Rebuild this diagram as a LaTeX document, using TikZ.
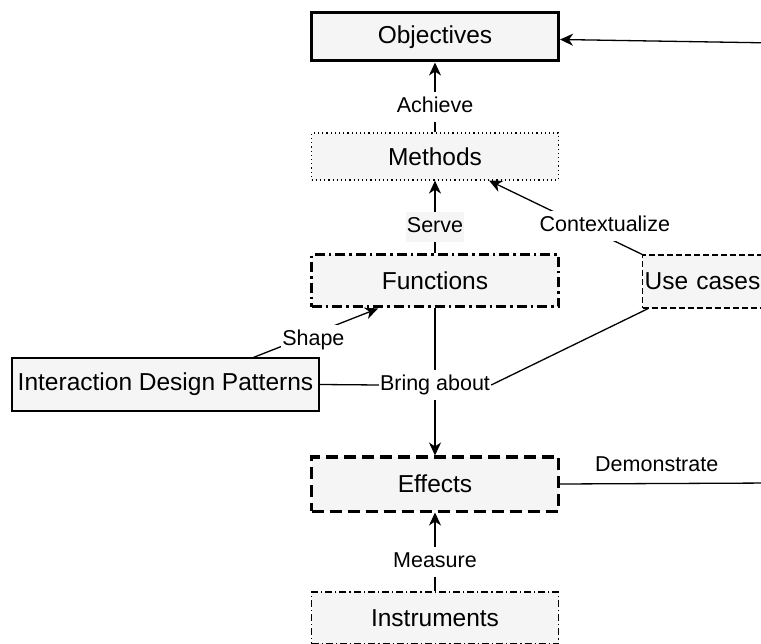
\documentclass[tikz,border=0pt]{standalone}
\usepackage{fontspec}
\setmainfont{Liberation Sans}
\usetikzlibrary{arrows.meta}
\usetikzlibrary{calc}

\tikzset{
  box/.style={draw, fill=black!4, minimum width=247pt, inner sep=0pt,
    font=\fontsize{24.5}{29}\selectfont},
  lbl/.style={fill=white, inner xsep=1pt, inner ysep=4.5pt, text height=16pt,
    text depth=5pt, font=\fontsize{21.5}{26}\selectfont},
  wire/.style={line width=1.3pt},
}

\begin{document}
\begin{tikzpicture}[x=1pt,y=-1pt,>={Stealth[length=13pt,width=12pt,inset=4pt]}]
\clip (0,0) rectangle (761,644);
\edef\cx{435}

\node[box, line width=3pt, minimum height=48pt] (obj) at (\cx,37) {Objectives};
\node[box, line width=1.2pt, dash pattern=on 1.2pt off 3pt, minimum height=47pt] (meth) at (\cx,156.5) {Methods};
\node[box, line width=3pt, dash pattern=on 10pt off 4pt on 2.5pt off 4pt, minimum height=52pt] (func) at (\cx,281) {Functions};
\node[box, wire, dash pattern=on 6pt off 3pt, minimum width=0pt, text width=124pt, align=left,
  inner xsep=2pt, minimum height=53pt, anchor=west] (uc) at (642,281.5) {Use cases};
\node[box, wire, minimum width=307pt, minimum height=53pt] (idp) at (165.5,384.5) {Interaction Design Patterns};
\node[box, line width=3pt, dash pattern=on 12pt off 6pt, minimum height=54pt] (eff) at (\cx,484) {Effects};
\node[box, line width=1.2pt, dash pattern=on 7pt off 3pt on 1.2pt off 3pt, minimum height=52pt] (ins) at (\cx,618) {Instruments};

\node[lbl] (bring) at (\cx,385) {Bring about};
\coordinate (objin) at (775,43);
\coordinate (demo) at (775,483);

\draw[wire,->] (objin) -- ([yshift=-2.5pt]obj.east);
\draw[wire,->] (meth.north) -- (obj.south) node[lbl, pos=0.36] {Achieve};
\draw[wire,->] (func.north) -- (meth.south) node[lbl, pos=0.37, fill=black!4] {Serve};
\draw[wire,->] (uc.north west) -- ([xshift=-70pt]meth.south east)
  node[lbl, pos=0.243, yshift=10pt] {Contextualize};
\draw[wire,->] ([xshift=-66pt]idp.north east) -- ([xshift=68pt]func.south west)
  node[lbl, pos=0.48, yshift=-6.5pt] {Shape};

\draw[wire] (func.south) -- (bring.north);
\draw[wire] (idp.east) -- (bring.west);
\draw[wire] ([xshift=6pt]uc.south west) -- (bring.east);
\draw[wire,->] (bring.south) -- (eff.north);

\draw[wire] (eff.east) -- (demo) node[lbl, fill=none, pos=0.45, above=2pt] {Demonstrate};
\draw[wire,->] (ins.north) -- (eff.south) node[lbl, pos=0.37] {Measure};
\end{tikzpicture}
\end{document}
